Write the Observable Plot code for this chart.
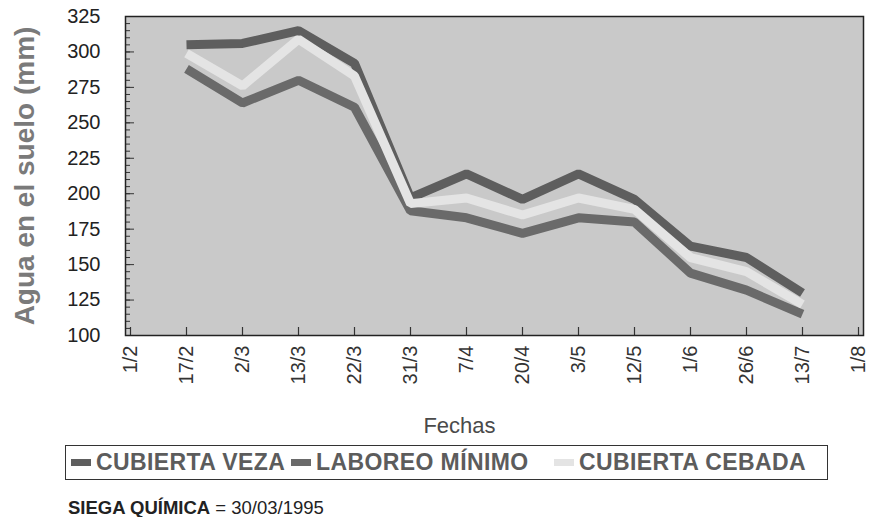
<!DOCTYPE html>
<html>
<head>
<meta charset="utf-8">
<script src="https://cdn.jsdelivr.net/npm/d3@7"></script>
<script src="https://cdn.jsdelivr.net/npm/@observablehq/plot@0.6"></script>
<style>
  body { margin: 0; background: #fff; font-family: "Liberation Sans", Arial, sans-serif; }
  #wrap { position: relative; width: 875px; height: 517px; overflow: hidden; }
  #chart { position: absolute; left: 0; top: 0; }
  #legend { position: absolute; left: 65px; top: 445px; width: 763px; height: 35px;
            border: 1.5px solid #333; box-sizing: border-box; }
  .item { position: absolute; top: 0; height: 100%; display: flex; align-items: center; }
  .sw { width: 20px; height: 7px; margin-right: 5px; }
  .lab { font-size: 23px; font-weight: bold; color: #5c5c5c; letter-spacing: 0.4px; white-space: nowrap; }
  #caption { position: absolute; left: 68px; top: 497px; font-size: 18.5px; color: #222; white-space: nowrap; }
</style>
</head>
<body>
<div id="wrap">
  <div id="chart"></div>
  <div id="legend"></div>
  <div id="caption"><b>SIEGA QUÍMICA</b> = 30/03/1995</div>
</div>
<script>
const dates = ["1/2","17/2","2/3","13/3","22/3","31/3","7/4","20/4","3/5","12/5","1/6","26/6","13/7","1/8"];
const lineDates = ["17/2","2/3","13/3","22/3","31/3","7/4","20/4","3/5","12/5","1/6","26/6","13/7"];
const seriesNames = ["CUBIERTA VEZA","LABOREO MÍNIMO","CUBIERTA CEBADA"];
const seriesColors = ["#5e5e5e","#6a6a6a","#e4e4e4"];
const veza    = [305, 306, 315, 292, 197, 214, 196, 214, 196, 163, 155, 130];
const laboreo = [288, 264, 280, 261, 188, 183, 172, 183, 180, 144, 132, 115];
const cebada  = [299, 276, 309, 283, 193, 197, 185, 197, 189, 155, 145, 122];
const yTicks = [100,125,150,175,200,225,250,275,300,325];
const yMinor = d3.range(100, 326, 5);
const yTitle = "Agua en el suelo (mm)";
const xTitle = "Fechas";

const seriesValues = {"CUBIERTA VEZA": veza, "LABOREO MÍNIMO": laboreo, "CUBIERTA CEBADA": cebada};
const drawOrder = ["CUBIERTA VEZA","LABOREO MÍNIMO","CUBIERTA CEBADA"];
const rows = drawOrder.flatMap(s => lineDates.map((d, i) => ({date: d, value: seriesValues[s][i], series: s})));

const chart = Plot.plot({
  width: 875,
  height: 440,
  marginLeft: 125,
  marginRight: 12,
  marginTop: 16,
  marginBottom: 105,
  style: {fontFamily: "'Liberation Sans', Arial, sans-serif", background: "transparent"},
  x: {type: "point", domain: dates, padding: 0},
  y: {domain: [100, 325]},
  color: {domain: seriesNames, range: seriesColors},
  marks: [
    Plot.frame({fill: "#c9c9c9"}),
    Plot.tickY(yMinor, {y: d => d, insetRight: 733, stroke: "#333"}),
    Plot.tickY(yTicks, {y: d => d, insetRight: 729, stroke: "#333"}),
    Plot.tickX(dates, {x: d => d, insetTop: 311, stroke: "#333", strokeWidth: 1.2}),
    Plot.line(rows, {x: "date", y: "value", z: "series", stroke: "series",
      strokeWidth: 9, strokeLinejoin: "miter", strokeLinecap: "butt"}),
    Plot.axisY({ticks: yTicks, tickSize: 0, tickPadding: 25, fontSize: 20, fill: "#222", label: null}),
    Plot.axisX({tickSize: 0, tickPadding: 10, tickRotate: -90, fontSize: 20, fill: "#333", label: null}),
    Plot.text([yTitle], {frameAnchor: "left", dx: -100, rotate: -90, textAnchor: "middle",
      lineAnchor: "middle", fontSize: 28, fontWeight: "bold", fill: "#7a7a7a"}),
    Plot.text([xTitle], {frameAnchor: "bottom", dx: -35, dy: 90, textAnchor: "middle",
      lineAnchor: "middle", fontSize: 22, fill: "#4a4a4a"}),
    Plot.frame({stroke: "#222", strokeWidth: 1.5})
  ]
});
document.getElementById("chart").appendChild(chart);

const legendLefts = [5, 225, 488];
const legend = document.getElementById("legend");
seriesNames.forEach((s, i) => {
  const it = document.createElement("div");
  it.className = "item";
  it.style.left = legendLefts[i] + "px";
  it.innerHTML = `<span class="sw" style="background:${seriesColors[i]}"></span><span class="lab">${s}</span>`;
  legend.appendChild(it);
});
</script>
</body>
</html>
